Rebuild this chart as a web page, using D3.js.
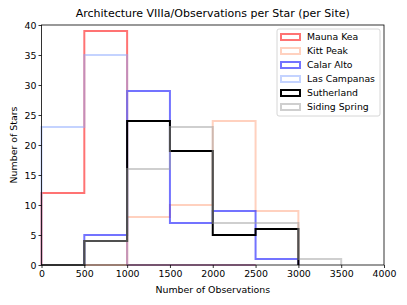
<!DOCTYPE html>
<html>
<head>
<meta charset="utf-8">
<script src="https://cdn.jsdelivr.net/npm/d3@7"></script>
<style>
  body { margin: 0; background: #fff; }
  text { font-family: "DejaVu Sans", sans-serif; fill: #000; }
</style>
</head>
<body>
<div id="chart"></div>
<script>
// bin edges and counts per site
var binWidth = 500;
var sites = ["Mauna Kea", "Kitt Peak", "Calar Alto", "Las Campanas", "Sutherland", "Siding Spring"];
var starts = [0, 500, 500, 0, 0, 0];
var maunaKea = [12, 39, 0, 0, 0];
var kittPeak = [0, 8, 10, 24, 9];
var calarAlto = [5, 29, 7, 9, 1];
var lasCampanas = [23, 35, 0, 0, 0];
var sutherland = [0, 4, 24, 19, 5, 6];
var sidingSpring = [0, 4, 16, 23, 7, 7, 1];
var counts = [maunaKea, kittPeak, calarAlto, lasCampanas, sutherland, sidingSpring];
var colors = ["#ff0000", "#ff9a70", "#0000ff", "#8aa8ff", "#000000", "#a0a0a0"];
var opacities = [0.55, 0.45, 0.55, 0.5, 1, 0.5];
var xTicks = [0, 500, 1000, 1500, 2000, 2500, 3000, 3500, 4000];
var yTicks = [0, 5, 10, 15, 20, 25, 30, 35, 40];

var width = 407, height = 305;
var plot = {left: 41.5, right: 384, top: 25, bottom: 265};

var svg = d3.select("#chart").append("svg")
    .attr("width", width)
    .attr("height", height);

var x = d3.scaleLinear().domain([0, 4000]).range([plot.left, plot.right]);
var y = d3.scaleLinear().domain([0, 40]).range([plot.bottom, plot.top]);

// step outlines, like histtype='step'
var line = d3.line().x(function(d) { return x(d[0]); }).y(function(d) { return y(d[1]); });
counts.forEach(function(c, i) {
    var pts = [[starts[i], 0]];
    c.forEach(function(v, j) {
        var x0 = starts[i] + j * binWidth;
        pts.push([x0, v]);
        pts.push([x0 + binWidth, v]);
    });
    pts.push([starts[i] + c.length * binWidth, 0]);
    svg.append("path")
        .attr("d", line(pts))
        .attr("fill", "none")
        .attr("stroke", colors[i])
        .attr("stroke-opacity", opacities[i])
        .attr("stroke-width", 2);
});

// frame
svg.append("rect")
    .attr("x", plot.left).attr("y", plot.top)
    .attr("width", plot.right - plot.left).attr("height", plot.bottom - plot.top)
    .attr("fill", "none").attr("stroke", "#000").attr("stroke-width", 0.8);

var xAxis = svg.append("g")
    .attr("transform", "translate(0," + plot.bottom + ")")
    .call(d3.axisBottom(x).tickValues(xTicks).tickSize(3).tickPadding(2).tickFormat(d3.format("d")));
var yAxis = svg.append("g")
    .attr("transform", "translate(" + plot.left + ",0)")
    .call(d3.axisLeft(y).tickValues(yTicks).tickSize(3).tickPadding(2).tickFormat(d3.format("d")));
[xAxis, yAxis].forEach(function(a) {
    a.select(".domain").remove();
    a.selectAll("line").attr("stroke", "#000").attr("stroke-width", 0.8);
    a.selectAll("text").style("font-family", "DejaVu Sans").style("font-size", "9.4px");
});

svg.append("text")
    .attr("x", (plot.left + plot.right) / 2).attr("y", 17)
    .attr("text-anchor", "middle")
    .style("font-size", "11px")
    .text("Architecture VIIIa/Observations per Star (per Site)");

svg.append("text")
    .attr("x", (plot.left + plot.right) / 2).attr("y", 292.5)
    .attr("text-anchor", "middle")
    .style("font-size", "9.4px")
    .text("Number of Observations");

svg.append("text")
    .attr("transform", "translate(17," + (plot.top + plot.bottom) / 2 + ") rotate(-90)")
    .attr("text-anchor", "middle")
    .style("font-size", "9.4px")
    .text("Number of Stars");

// legend
var legend = svg.append("g").attr("transform", "translate(277,29)");
legend.append("rect")
    .attr("width", 103).attr("height", 87).attr("rx", 2)
    .attr("fill", "#fff").attr("fill-opacity", 0.8)
    .attr("stroke", "#ccc").attr("stroke-width", 0.8);
sites.forEach(function(s, i) {
    var g = legend.append("g").attr("transform", "translate(0," + (8 + i * 14) + ")");
    g.append("rect")
        .attr("x", 4).attr("y", -3).attr("width", 19).attr("height", 6)
        .attr("fill", "none")
        .attr("stroke", colors[i]).attr("stroke-opacity", opacities[i])
        .attr("stroke-width", 2);
    g.append("text")
        .attr("x", 30).attr("y", 3.4)
        .style("font-size", "9.3px")
        .text(s);
});
</script>
</body>
</html>
